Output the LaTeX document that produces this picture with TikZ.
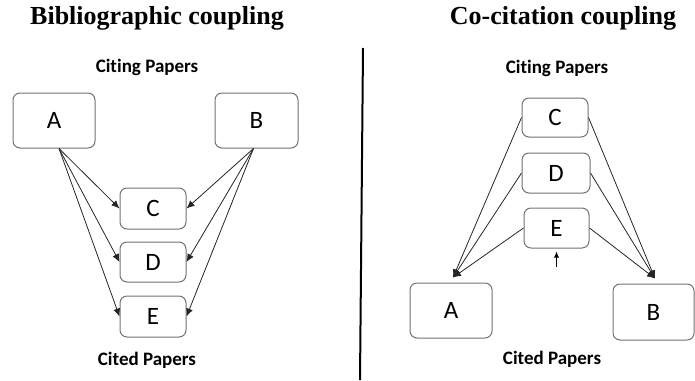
\documentclass[tikz,border=0pt]{standalone}
\usepackage{fontspec}
\setmainfont{Liberation Serif}
\newfontfamily\boxfont[Ligatures=NoCommon]{Carlito}
\usetikzlibrary{arrows.meta}
\begin{document}
\begin{tikzpicture}[x=1pt,y=-1pt,
  paper/.style={draw=black!55,line width=1pt,rounded corners=7pt,fill=white,
    font=\boxfont\fontsize{25}{27}\selectfont,inner sep=0pt},
  title/.style={font=\bfseries\fontsize{26}{28}\selectfont,inner sep=0pt},
  caption/.style={font=\boxfont\bfseries\fontsize{19}{21}\selectfont,inner sep=0pt},
  link/.style={draw=black!85,line width=0.8pt,-{Latex[length=8pt,width=7pt]}}]
\useasboundingbox (0,0) rectangle (695,380);
% left panel
\node[title] (t1) at (157,18) {Bibliographic coupling};
\node[caption] (cg1) at (147,67) {Citing Papers};
\node[caption] (cd1) at (147,360) {Cited Papers};
\node[paper,minimum width=82pt,minimum height=55pt] (A) at (54,120.5) {A};
\node[paper,minimum width=83pt,minimum height=55pt] (B) at (256.5,120.5) {B};
\node[paper,minimum width=66pt,minimum height=41pt] (C) at (153,208.5) {C};
\node[paper,minimum width=66pt,minimum height=40pt] (D) at (153,262) {D};
\node[paper,minimum width=66pt,minimum height=41pt] (E) at (153,316.5) {E};
\foreach \t in {C,D,E}{
  \draw[link] ([xshift=5pt]A.south) -- (\t.west);
  \draw[link] ([xshift=-3pt]B.south) -- (\t.east);
}
% divider
\draw[line width=2pt] (363,48) coordinate (dtop) -- (360,380) coordinate (dbot);
% right panel
\node[title] (t2) at (563,18) {Co-citation coupling};
\node[caption] (cg2) at (557,68) {Citing Papers};
\node[caption] (cd2) at (552,359) {Cited Papers};
\node[paper,minimum width=66pt,minimum height=39pt] (C2) at (555,117.5) {C};
\node[paper,minimum width=68pt,minimum height=40pt] (D2) at (556,173) {D};
\node[paper,minimum width=65pt,minimum height=40pt] (E2) at (556.5,228) {E};
\node[paper,minimum width=82pt,minimum height=55pt] (A2) at (451,310.5) {A};
\node[paper,minimum width=81pt,minimum height=56pt] (B2) at (653.5,312) {B};
\foreach \t in {C2,D2,E2}{
  \draw[link] (\t.west) -- ([xshift=2pt,yshift=5pt]A2.north);
  \draw[link] (\t.east) -- ([xshift=1.5pt,yshift=5pt]B2.north);
}
\draw[draw=black,line width=0.8pt,-{Latex[length=6pt,width=5pt]}] ([yshift=-18pt]E2.south) -- ([yshift=-3pt]E2.south);
\end{tikzpicture}
\end{document}
